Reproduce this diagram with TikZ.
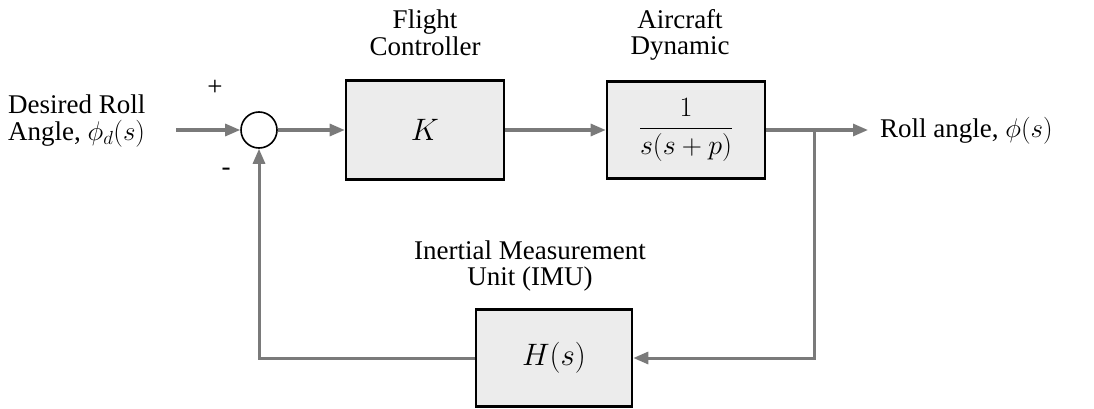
\RequirePackage{fix-cm}
\documentclass[tikz,border=0pt]{standalone}
\usepackage{amsmath}
\usepackage{fontspec}
\setmainfont{Liberation Serif}
\usetikzlibrary{arrows.meta}
\definecolor{linegray}{HTML}{7A7A7A}
\definecolor{boxfill}{HTML}{ECECEC}
\tikzset{
  blk/.style={draw=black, line width=2.6pt, fill=boxfill, inner sep=0pt},
  conn/.style={draw=linegray, line width=3pt, -{Triangle[length=15pt,width=12pt]}},
  lbl/.style={inner sep=0pt, align=center, font=\fontsize{27}{26.5}\selectfont},
  mth/.style={font=\fontsize{31}{31}\selectfont},
}
\begin{document}
\begin{tikzpicture}[x=1pt,y=-1pt]
\useasboundingbox (0,0) rectangle (1094,409);
% blocks
\node[blk, mth, minimum width=158pt, minimum height=99pt] (K) at (425,130) {$K$};
\node[blk, minimum width=158pt, minimum height=97pt, font=\fontsize{28}{28}\selectfont] (G) at (686,130) {$\dfrac{1}{s(s+p)}$};
\node[blk, mth, minimum width=156pt, minimum height=97pt] (H) at (554,358) {$H(s)$};
\node[draw=black, line width=1.6pt, circle, minimum size=36pt, inner sep=0pt, fill=white] (sum) at (259,130) {};
% coordinates
\coordinate (in) at (176,130);
\coordinate (out) at (868,130);
\coordinate (br) at (814,130);
% labels
\node[lbl, anchor=west, align=left] (din) at (8,121) {Desired Roll\\Angle, $\phi_d(s)$};
\node[lbl, anchor=west] (rout) at (880,131) {Roll angle, $\phi(s)$};
\node[lbl] (fc) at (425,33) {Flight\\Controller};
\node[lbl] (ad) at (680,35) {Aircraft\\Dynamic};
\node[lbl] (imu) at (530,266) {Inertial Measurement\\Unit (IMU)};
\node[lbl] (plus) at (215,88) {+};
\node[lbl] (minus) at (226,172) {-};
% connectors
\draw[conn] (in) -- (sum.west);
\draw[conn] (sum.east) -- (K.west);
\draw[conn] (K.east) -- (G.west);
\draw[conn] (G.east) -- (out);
\draw[conn] (br) |- (H.east);
\draw[conn] (H.west) -| (sum.south);
\end{tikzpicture}
\end{document}
